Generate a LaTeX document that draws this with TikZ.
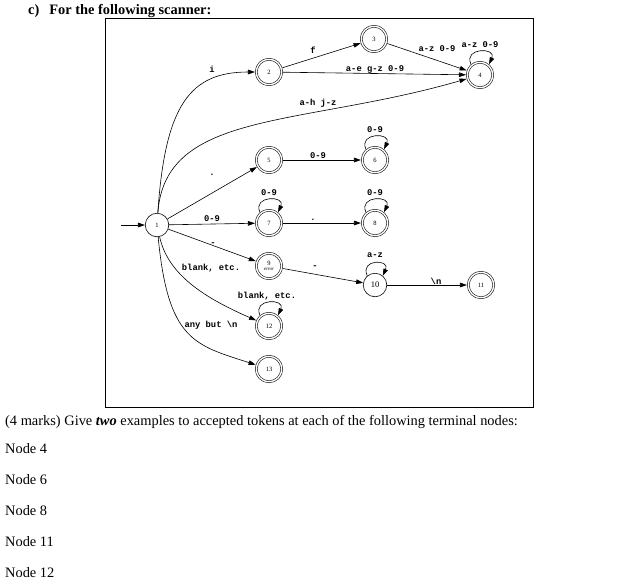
\documentclass[tikz,border=0pt]{standalone}
\usepackage{fontspec}
\setmainfont{Liberation Serif}
\setmonofont{Liberation Mono}
\usepackage{tikz}
\usetikzlibrary{arrows.meta}
\tikzset{
  state/.style={circle, draw, line width=0.6pt, minimum size=23.5pt, inner sep=0pt,
                font=\fontsize{6.5}{7}\selectfont},
  accept/.style={state, double, double distance=1.4pt, line width=0.55pt,
                 minimum size=25.5pt, outer sep=1.3pt},
  edge/.style={-{Triangle[length=7pt, width=4.6pt]}, line width=0.6pt},
  lbl/.style={font=\fontsize{8.8}{9}\selectfont\ttfamily\bfseries, inner sep=0pt},
  txt/.style={anchor=base west, inner sep=0pt, font=\fontsize{14.4}{16}\selectfont},
}

\begin{document}
\begin{tikzpicture}[x=1pt, y=-1pt]
  \useasboundingbox (0,0) rectangle (636,587);
  \node[txt, font=\bfseries\fontsize{14.4}{16}\selectfont] (title) at (28,14) {c)\hspace{10pt}For the following scanner:};
  \draw[line width=0.9pt] (105,18.5) rectangle (533,407.5);

  \coordinate (start) at (121,225);
  \node[state] (s1) at (157,225) {1};
  \node[accept] (s2) at (269,72) {2};
  \node[accept] (s3) at (374,39) {3};
  \node[accept] (s4) at (480,75) {4};
  \node[accept] (s5) at (269,160) {5};
  \node[accept] (s6) at (375,160) {6};
  \node[accept] (s7) at (269,223) {7};
  \node[accept] (s8) at (375,223) {8};
  \node[accept, align=center] (s9) at (269,266) {9\\[-1.5pt]{\itshape\fontsize{5}{5}\selectfont error}};
  \node[state, font=\fontsize{8.5}{9}\selectfont] (s10) at (375,285) {10};
  \node[accept] (s11) at (481,285) {11};
  \node[accept] (s12) at (269,326) {12};
  \node[accept] (s13) at (269,369) {13};

  \draw[edge] (start) -- (s1);
  \draw[edge] (s1) .. controls (165,105) and (190,72) .. (s2) node[lbl] at (212,69) {i};
  \draw[edge] (s1) .. controls (165,110) and (300,127) .. (s4) node[lbl] at (318,103) {a-h j-z};
  \draw[edge] (s2) -- (s3) node[lbl] at (313,50) {f};
  \draw[edge] (s2) -- (s4) node[lbl] at (375,69) {a-e g-z 0-9};
  \draw[edge] (s3) -- (s4) node[lbl] at (437,49) {a-z 0-9};
  \draw[edge] (s4.130) .. controls +(-8,-17) and +(8,-17) .. (s4.50) node[lbl] at (480,45) {a-z 0-9};
  \draw[edge] (s1) -- (s5) node[lbl] at (212,175) {.};
  \draw[edge] (s5) -- (s6) node[lbl] at (318,156) {0-9};
  \draw[edge] (s6.130) .. controls +(-8,-17) and +(8,-17) .. (s6.50) node[lbl] at (375,130) {0-9};
  \draw[edge] (s1) -- (s7) node[lbl] at (212,219) {0-9};
  \draw[edge] (s7.130) .. controls +(-8,-17) and +(8,-17) .. (s7.50) node[lbl] at (269,193) {0-9};
  \draw[edge] (s7) -- (s8) node[lbl] at (313,220) {.};
  \draw[edge] (s8.130) .. controls +(-8,-17) and +(8,-17) .. (s8.50) node[lbl] at (375,193) {0-9};
  \draw[edge] (s1) -- (s9) node[lbl] at (213,244) {-};
  \draw[edge] (s9) -- (s10) node[lbl] at (315,267) {-};
  \draw[edge] (s10.130) .. controls +(-8,-17) and +(8,-17) .. (s10.50) node[lbl] at (375,255) {a-z};
  \draw[edge] (s10) -- (s11) node[lbl] at (436,281) {\textbackslash n};
  \draw[edge] (s1) .. controls (168,275) and (205,298) .. (s12) node[lbl] at (211,268) {blank, etc.};
  \draw[edge] (s12.130) .. controls +(-8,-17) and +(8,-17) .. (s12.50) node[lbl] at (267,296) {blank, etc.};
  \draw[edge] (s1) .. controls (168,340) and (194,345) .. (s13) node[lbl] at (211,325) {any but \textbackslash n};

  \node[txt] (ask) at (5,425) {(4 marks) Give \textbf{\textit{two}} examples to accepted tokens at each of the following terminal nodes:};
  \foreach \n [count=\i] in {4,6,8,11,12}
    \node[txt] (node\n) at (5,{422+31*\i}) {Node \n};
\end{tikzpicture}
\end{document}
